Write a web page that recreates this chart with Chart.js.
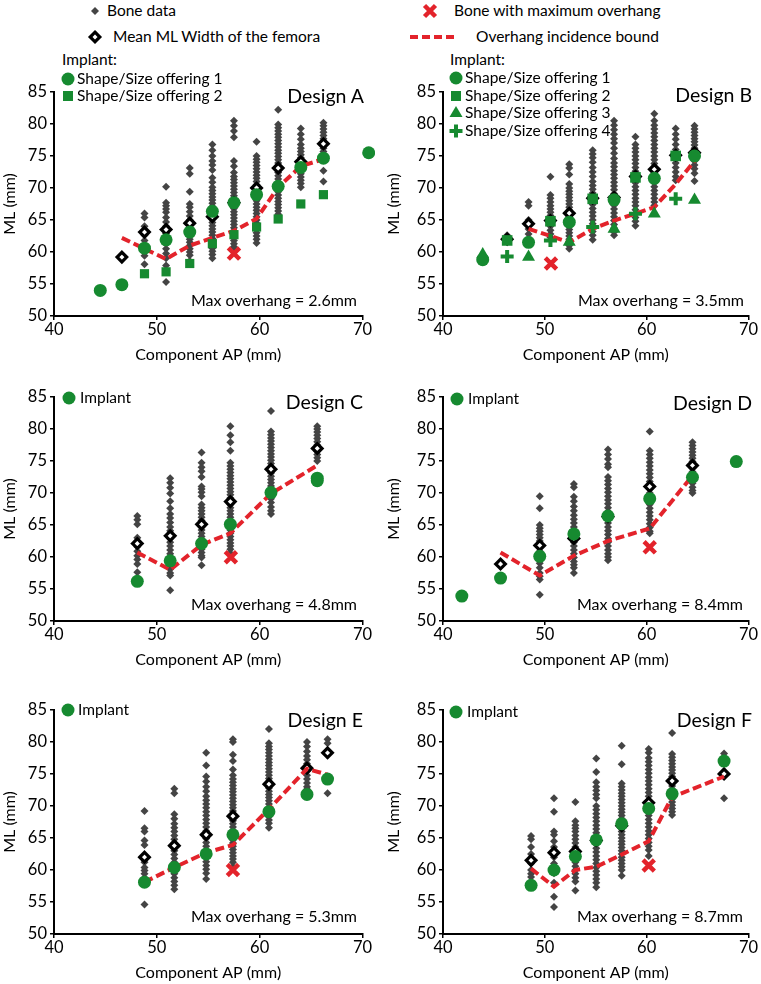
<!DOCTYPE html>
<html>
<head>
<meta charset="utf-8">
<script src="https://cdn.jsdelivr.net/npm/chart.js@4.4.1/dist/chart.umd.min.js"></script>
<style>
  body { margin: 0; background: #fff; width: 761px; height: 984px; position: relative; overflow: hidden; font-family: Lato, sans-serif; color: #000; }
  canvas { position: absolute; }
  .t { position: absolute; white-space: nowrap; font-size: 15.5px; line-height: 1; transform: translateY(-50%); z-index: 5; }
  .r { transform: translate(-100%, -50%); }
  .big { font-size: 19.5px; }
  .mo { font-size: 16px; }
  svg { position: absolute; overflow: visible; z-index: 5; }
</style>
</head>
<body>
<script>
const GREEN = '#168a30', RED = '#e3232b', GREY = '#444444';

// ---- Design A ----
const apA_bone = [46.6, 48.8, 50.9, 53.2, 55.4, 57.5, 59.7, 61.8, 64.0, 66.2];
const mlA_bone = [
  [59.2],
  [66.0, 65.4, 64.0, 63.4, 62.6, 61.8, 61.0, 60.2, 59.4, 58.1],
  [70.2, 67.7, 67.2, 66.7, 66.2, 65.4, 64.7, 64.0, 63.4, 62.9, 62.4, 61.9, 61.3, 60.5, 59.75, 59.0, 57.9, 55.3],
  [73.1, 72.2, 69.4, 67.5, 67.0, 66.3, 65.6, 65.0, 64.4, 63.8, 63.2, 62.6, 62.0, 61.5, 61.0, 60.5, 60.0, 59.5, 58.6],
  [76.8, 75.9, 75.0, 74.2, 73.6, 72.8, 71.6, 70.9, 70.1, 69.6, 69.1, 68.6, 68.1, 67.6, 67.1, 66.6, 66.1, 65.6, 65.1, 64.6, 64.1, 63.6, 63.1, 62.6, 62.1, 61.6, 61.1, 60.6, 60.1, 59.6, 59.0],
  [80.5, 79.7, 78.9, 77.9, 74.2, 73.4, 72.4, 71.8, 71.3, 70.8, 70.3, 69.8, 69.3, 68.8, 68.3, 67.8, 67.3, 66.8, 66.3, 65.8, 65.3, 64.8, 64.3, 63.8, 63.3, 62.8, 62.3, 61.8, 61.3, 60.8, 60.3],
  [77.2, 75.0, 74.5, 74.0, 73.5, 73.0, 72.5, 72.0, 71.5, 71.0, 70.5, 70.0, 69.5, 69.0, 68.5, 68.0, 67.5, 67.0, 66.5, 66.0, 65.5, 65.0, 64.5, 64.0, 63.5, 63.0, 62.5, 62.0, 61.4],
  [82.2, 79.9, 79.4, 78.9, 78.4, 77.9, 77.4, 76.9, 76.4, 75.9, 75.4, 74.9, 74.4, 73.9, 73.4, 72.9, 72.4, 71.9, 71.4, 70.9, 70.4, 69.9, 69.4, 68.9, 68.4, 67.9, 67.4, 66.9, 66.4, 65.9],
  [79.3, 78.4, 77.6, 76.8, 76.2, 75.7, 75.2, 74.7, 74.2, 73.7, 73.2, 72.7, 72.2, 71.7, 71.2, 70.7, 70.1],
  [80.2, 79.7, 79.2, 78.7, 78.2, 77.7, 77.2, 76.7, 76.2, 75.7, 72.7, 71.0]
];
const apA_mean = [46.6, 48.8, 50.9, 53.2, 55.4, 57.5, 59.7, 61.8, 64.0, 66.2];
const mlA_mean = [59.2, 63.1, 63.5, 64.5, 65.5, 67.7, 70.0, 73.1, 74.1, 76.9];
const apA_imp1 = [44.5, 46.6, 48.8, 50.9, 53.2, 55.4, 57.5, 59.7, 61.8, 64.0, 66.2, 70.6];
const mlA_imp1 = [54.0, 54.9, 60.6, 61.9, 63.1, 66.35, 67.7, 68.95, 70.25, 73.2, 74.65, 75.5];
const apA_imp2 = [48.8, 50.9, 53.2, 55.4, 57.5, 59.7, 61.8, 64.0, 66.2];
const mlA_imp2 = [56.6, 56.9, 58.2, 61.3, 62.7, 63.9, 65.15, 67.5, 68.95];
const apA_bound = [46.6, 48.8, 50.9, 53.2, 55.4, 57.5, 59.7, 61.8, 64.0, 66.2];
const mlA_bound = [62.2, 60.5, 58.9, 61.0, 62.2, 63.3, 65.2, 70.1, 73.4, 74.5];
const maxA = [57.5, 59.75];

// ---- Design B ----
const apB_bone = [46.3, 48.4, 50.55, 52.4, 54.7, 56.8, 58.9, 60.75, 62.85, 64.7];
const mlB_bone = [
  [62.6, 62.2, 61.8],
  [67.8, 67.2, 65.0, 64.4, 63.6, 62.8, 62.0, 61.4],
  [71.75, 68.9, 68.4, 67.8, 67.2, 66.7, 66.2, 65.7, 65.2, 64.6, 64.0, 63.4, 62.8, 62.3],
  [73.7, 73.1, 72.1, 70.6, 70.0, 69.5, 69.0, 68.5, 68.0, 67.5, 67.0, 66.5, 66.0, 65.5, 65.0, 64.5, 64.0, 63.5, 63.0, 62.5, 62.0, 61.5, 61.0, 60.5],
  [75.9, 75.3, 74.7, 74.0, 73.2, 72.5, 71.8, 71.0, 70.4, 69.8, 69.2, 68.6, 68.0, 67.4, 66.8, 66.2, 65.6, 65.0, 64.4, 63.8, 63.2, 62.6, 61.9],
  [80.5, 79.8, 79.1, 78.4, 77.7, 77.0, 76.2, 75.4, 74.6, 73.9, 73.3, 72.7, 72.1, 71.5, 70.9, 70.3, 69.7, 69.1, 68.5, 67.9, 67.3, 66.7, 66.1, 65.5, 64.9, 64.3, 63.7, 63.1, 62.6],
  [78.0, 76.8, 76.2, 75.6, 75.0, 74.4, 73.8, 73.2, 72.6, 72.0, 71.4, 70.8, 70.2, 69.6, 69.0, 68.4, 67.8, 67.2, 66.6, 66.0, 65.4, 64.8, 64.1],
  [81.6, 80.5, 79.8, 79.2, 78.6, 78.0, 77.4, 76.8, 76.2, 75.6, 75.0, 74.4, 73.8, 73.2, 72.6, 72.0, 71.4, 70.8, 70.2, 69.6, 69.0, 68.4, 67.8, 67.25],
  [79.3, 78.4, 77.6, 76.8, 76.0, 75.3, 74.6, 73.9, 73.2, 72.5, 71.8, 71.2],
  [79.7, 79.2, 78.7, 78.2, 77.7, 77.2, 76.7, 76.2, 75.7, 75.2, 74.7, 74.2, 73.6, 73.0, 72.3, 71.1]
];
const apB_mean = [46.3, 48.4, 50.55, 52.4, 54.7, 56.8, 58.9, 60.75, 62.85, 64.7];
const mlB_mean = [62.0, 64.4, 64.9, 66.05, 68.4, 68.5, 71.8, 72.9, 75.1, 75.5];
const apB_imp1 = [43.9, 48.4, 52.4, 56.8, 60.75, 64.7];
const mlB_imp1 = [58.8, 61.5, 64.65, 68.15, 71.5, 75.0];
const apB_imp2 = [46.3, 50.55, 54.7, 58.9, 62.85];
const mlB_imp2 = [61.8, 64.8, 68.3, 71.65, 75.0];
const apB_imp3 = [43.9, 48.4, 52.4, 56.8, 60.75, 64.7];
const mlB_imp3 = [59.6, 59.2, 61.55, 63.6, 65.95, 68.1];
const apB_imp4 = [46.3, 50.55, 54.7, 58.9, 62.85];
const mlB_imp4 = [59.3, 61.8, 63.9, 65.95, 68.3];
const apB_bound = [48.4, 50.55, 52.4, 54.7, 56.8, 58.9, 60.75, 62.85, 64.7];
const mlB_bound = [63.6, 62.5, 61.5, 63.6, 64.9, 66.0, 67.0, 70.6, 74.2];
const maxB = [50.6, 58.2];

// ---- Design C ----
const apC_bone = [48.1, 51.3, 54.35, 57.15, 61.1, 65.6];
const mlC_bone = [
  [66.4, 65.8, 65.1, 63.0, 62.5, 61.6, 60.9, 60.2, 59.6, 58.9, 57.6],
  [72.3, 71.6, 70.8, 69.9, 68.7, 67.6, 66.7, 66.1, 65.4, 64.7, 64.1, 63.5, 62.9, 62.3, 61.7, 61.1, 60.5, 59.9, 59.3, 58.7, 58.1, 57.5, 57.1, 54.8],
  [76.3, 74.7, 74.0, 73.4, 72.5, 71.0, 70.6, 70.1, 69.5, 68.2, 67.7, 67.2, 66.7, 66.2, 65.7, 65.2, 64.7, 64.2, 63.7, 63.2, 62.7, 62.2, 61.7, 61.2, 60.7, 60.2, 59.9, 58.7],
  [80.4, 79.0, 77.9, 76.6, 74.7, 74.2, 73.7, 73.2, 72.7, 72.2, 71.7, 71.2, 70.7, 70.2, 69.7, 69.2, 68.7, 68.2, 67.7, 67.2, 66.7, 66.2, 65.7, 65.2, 64.7, 64.2, 63.7, 63.2, 62.7, 62.2, 61.7, 61.2, 60.6],
  [82.8, 79.6, 79.1, 78.6, 78.1, 77.6, 77.1, 76.6, 76.1, 75.6, 75.1, 74.6, 74.1, 73.6, 73.1, 72.6, 72.1, 71.6, 71.1, 70.6, 70.1, 69.6, 69.1, 68.5, 67.8, 67.2, 66.7],
  [80.4, 80.0, 79.5, 79.0, 78.5, 78.0, 77.5, 77.0, 76.5, 76.0, 75.5, 75.0, 71.6]
];
const apC_mean = [48.1, 51.3, 54.35, 57.15, 61.1, 65.6];
const mlC_mean = [62.1, 63.3, 65.1, 68.65, 73.7, 76.95];
const apC_imp = [48.1, 51.3, 54.35, 57.15, 61.1, 65.6, 65.6];
const mlC_imp = [56.2, 59.4, 62.1, 65.1, 70.05, 71.9, 72.3];
const apC_bound = [48.1, 51.3, 54.35, 57.15, 61.1, 65.6];
const mlC_bound = [60.7, 58.0, 61.9, 63.7, 69.9, 74.3];
const maxC = [57.2, 59.95];

// ---- Design D ----
const apD_bone = [45.65, 49.5, 52.85, 56.2, 60.3, 64.5];
const mlD_bone = [
  [58.9],
  [69.5, 67.6, 65.0, 64.5, 64.0, 63.5, 63.0, 62.5, 62.0, 61.5, 60.9, 59.9, 59.0, 58.3, 57.5, 57.0, 56.5, 54.1],
  [71.4, 70.9, 69.4, 68.7, 67.9, 67.2, 66.5, 65.9, 65.3, 64.7, 64.1, 63.5, 62.9, 62.3, 61.7, 61.1, 60.5, 59.9, 59.3, 58.8, 58.3, 57.5],
  [76.8, 76.0, 75.3, 74.5, 74.0, 72.5, 71.9, 71.3, 70.7, 70.1, 69.5, 68.9, 68.3, 67.7, 67.1, 66.5, 65.9, 65.3, 64.7, 64.1, 63.5, 62.9, 62.3, 61.7, 61.1, 60.5, 60.0, 59.5],
  [79.6, 76.6, 76.0, 75.4, 74.8, 74.2, 73.6, 73.0, 72.4, 71.8, 71.2, 70.6, 70.0, 69.4, 68.8, 68.2, 67.6, 67.0, 66.4, 65.8, 65.2, 64.6, 64.0, 63.7],
  [77.9, 77.4, 76.9, 76.4, 75.9, 75.4, 74.9, 74.4, 73.9, 73.3, 72.7, 72.1, 71.5, 70.9, 70.4, 70.0]
];
const apD_mean = [45.65, 49.5, 52.85, 56.2, 60.3, 64.5];
const mlD_mean = [58.9, 61.8, 62.9, 66.3, 71.0, 74.3];
const apD_imp = [41.85, 45.65, 49.5, 52.85, 56.2, 60.3, 64.5, 68.8];
const mlD_imp = [53.9, 56.7, 60.1, 63.6, 66.4, 69.1, 72.45, 74.9];
const apD_bound = [45.65, 49.5, 52.85, 56.2, 60.3, 64.5];
const mlD_bound = [60.7, 57.1, 60.2, 62.5, 64.45, 72.7];
const maxD = [60.3, 61.5];

// ---- Design E ----
const apE_bone = [48.8, 51.7, 54.8, 57.4, 60.9, 64.6, 66.6];
const mlE_bone = [
  [69.2, 66.5, 66.0, 64.6, 63.9, 61.2, 60.4, 59.9, 59.4, 58.8, 54.6],
  [72.7, 72.0, 68.7, 68.0, 67.2, 66.6, 66.0, 65.4, 64.8, 64.2, 63.6, 63.0, 62.4, 61.8, 61.2, 60.6, 60.0, 59.4, 58.8, 58.2, 57.6, 57.0],
  [78.3, 76.3, 74.6, 73.8, 73.0, 72.3, 71.5, 70.9, 70.3, 69.7, 69.1, 68.5, 67.9, 67.3, 66.7, 66.1, 65.5, 64.9, 64.3, 63.7, 63.1, 62.5, 61.9, 61.3, 60.7, 60.1, 59.5, 58.6],
  [80.4, 80.0, 78.0, 77.0, 75.7, 74.8, 74.2, 73.7, 73.2, 72.7, 72.2, 71.7, 71.2, 70.7, 70.2, 69.7, 69.2, 68.7, 68.2, 67.7, 67.2, 66.7, 66.2, 65.7, 65.2, 64.7, 64.2, 63.7, 63.2, 62.7, 62.2, 61.7, 61.2, 60.5],
  [82.0, 79.8, 79.3, 78.8, 78.3, 77.8, 77.3, 76.8, 76.3, 75.8, 75.3, 74.8, 74.3, 73.8, 73.3, 72.8, 72.3, 71.8, 71.3, 70.8, 70.3, 69.8, 69.3, 68.8, 68.3, 67.8, 67.3, 66.6],
  [80.0, 79.3, 78.5, 77.8, 77.2, 76.6, 76.0, 75.4, 74.8, 74.2, 73.6, 73.0, 72.6],
  [80.4, 79.8, 78.4, 72.0]
];
const apE_mean = [48.8, 51.7, 54.8, 57.4, 60.9, 64.6, 66.6];
const mlE_mean = [62.0, 63.8, 65.5, 68.4, 73.4, 75.9, 78.3];
const apE_imp = [48.8, 51.7, 54.8, 57.4, 60.9, 64.6, 66.6];
const mlE_imp = [58.1, 60.4, 62.5, 65.5, 69.1, 71.8, 74.2];
const apE_bound = [48.8, 51.7, 54.8, 57.4, 60.9, 64.6, 66.6];
const mlE_bound = [58.1, 60.4, 62.7, 63.9, 69.5, 75.8, 74.9];
const maxE = [57.4, 60.0];

// ---- Design F ----
const apF_bone = [48.65, 50.9, 53.0, 55.05, 57.55, 60.2, 62.5, 67.6];
const mlF_bone = [
  [65.3, 64.8, 63.6, 62.5, 61.0, 60.0, 59.4, 58.9],
  [71.2, 69.1, 66.0, 65.5, 64.5, 63.6, 62.0, 61.0, 60.3, 59.5, 58.0, 55.8, 54.2],
  [70.6, 67.6, 67.0, 66.5, 66.0, 65.4, 64.8, 64.2, 63.6, 63.0, 62.4, 61.8, 61.2, 60.6, 60.0, 59.4, 58.8, 58.2, 56.8],
  [77.4, 75.3, 73.7, 73.0, 72.4, 71.8, 71.2, 70.0, 69.4, 68.8, 68.2, 67.6, 67.0, 66.4, 65.8, 65.2, 64.6, 64.0, 63.4, 62.8, 62.2, 61.6, 61.0, 60.4, 59.8, 59.2, 58.6, 58.0, 57.3],
  [79.4, 76.5, 73.5, 73.0, 72.5, 72.0, 71.5, 71.0, 70.5, 70.0, 69.5, 69.0, 68.5, 68.0, 67.5, 67.0, 66.5, 66.0, 65.5, 65.0, 64.5, 64.0, 63.5, 63.0, 62.5, 62.0, 61.5, 61.0, 60.5, 60.0, 59.1],
  [78.9, 78.3, 77.5, 76.9, 76.3, 75.7, 75.1, 74.5, 73.9, 73.3, 72.7, 72.1, 71.5, 70.9, 70.3, 69.7, 69.1, 68.5, 67.9, 67.3, 66.7, 66.1, 65.5, 64.9, 64.3, 63.7, 63.1, 62.2],
  [81.4, 78.1, 77.6, 77.1, 76.6, 76.1, 75.6, 75.1, 74.6, 74.1, 73.6, 73.1, 72.6, 72.1, 71.6, 71.1, 70.6, 70.1, 69.6, 69.1, 68.6],
  [78.2, 71.2]
];
const apF_mean = [48.65, 50.9, 53.0, 55.05, 57.55, 60.2, 62.5, 67.6];
const mlF_mean = [61.5, 62.7, 62.9, 64.6, 66.9, 70.5, 73.9, 75.0];
const apF_imp = [48.65, 50.9, 53.0, 55.05, 57.55, 60.2, 62.5, 67.6];
const mlF_imp = [57.6, 60.0, 62.1, 64.7, 67.2, 69.6, 71.9, 77.0];
const apF_bound = [48.65, 50.9, 53.0, 55.05, 57.55, 60.2, 62.5, 67.6];
const mlF_bound = [60.2, 57.4, 60.0, 60.5, 62.4, 64.5, 71.4, 74.6];
const maxF = [60.2, 60.7];

const xTicks = [40, 50, 60, 70];
const yTicks = [50, 55, 60, 65, 70, 75, 80, 85];

function pts(xs, ys) { return xs.map((x, i) => ({ x: x, y: ys[i] })); }
function columns(xs, cols) {
  const out = [];
  xs.forEach((x, i) => cols[i].forEach(y => out.push({ x: x, y: y })));
  return out;
}

function implantSet(xs, ys, style, r) {
  const ds = { data: pts(xs, ys), pointStyle: style, pointRadius: r, pointHoverRadius: r,
    backgroundColor: GREEN, borderColor: GREEN, borderWidth: 0, order: 2, clip: false };
  if (style === 'cross') { ds.borderWidth = 4; }
  return ds;
}

function panel(left, top, width, yw, padR, boneX, boneY, meanX, meanY, implants, boundX, boundY, mx) {
  const cv = document.createElement('canvas');
  const h = 12 + 225 + 48;
  cv.width = width; cv.height = h;
  cv.style.left = left + 'px'; cv.style.top = (top - 12) + 'px';
  document.body.appendChild(cv);
  const font = { family: 'Lato', size: 16.5 };
  const datasets = [
    { data: [{ x: mx[0], y: mx[1] }], pointStyle: 'crossRot', pointRadius: 8, borderColor: RED, borderWidth: 4.5, order: 0, clip: false },
    { data: pts(boundX, boundY), showLine: true, pointRadius: 0, borderColor: RED, borderWidth: 4, borderDash: [9, 4], order: 3, clip: false },
    { data: pts(meanX, meanY), pointStyle: 'rectRot', pointRadius: 4.8, borderColor: '#000', backgroundColor: '#fff', borderWidth: 3.2, order: 4, clip: false },
    { data: columns(boneX, boneY), pointStyle: 'rectRot', pointRadius: 4, backgroundColor: GREY, borderWidth: 0, order: 5, clip: false }
  ].concat(implants);
  new Chart(cv, {
    type: 'scatter',
    data: { datasets: datasets },
    options: {
      responsive: false, animation: false, devicePixelRatio: 1,
      layout: { padding: { top: 12, right: padR, left: 0, bottom: 0 } },
      plugins: { legend: { display: false }, tooltip: { enabled: false } },
      scales: {
        x: {
          type: 'linear', min: 40, max: 70,
          afterBuildTicks: s => { s.ticks = xTicks.map(v => ({ value: v })); },
          afterFit: s => { s.height = 48; },
          ticks: { color: '#000', font: font, padding: 0, maxRotation: 0 },
          grid: { drawOnChartArea: false, drawTicks: true, tickLength: 4, color: '#000', lineWidth: 1.5 },
          border: { color: '#000', width: 2 },
          title: { display: true, text: 'Component AP (mm)', color: '#000', font: { family: 'Lato', size: 16 }, padding: 0 }
        },
        y: {
          type: 'linear', min: 50, max: 85,
          afterBuildTicks: s => { s.ticks = yTicks.map(v => ({ value: v })); },
          afterFit: s => { s.width = yw; },
          ticks: { color: '#000', font: font, padding: 3 },
          grid: { drawOnChartArea: false, drawTicks: true, tickLength: 4, color: '#000', lineWidth: 1.5 },
          border: { color: '#000', width: 2 },
          title: { display: true, text: 'ML (mm)', color: '#000', font: { family: 'Lato', size: 16 }, padding: 0 }
        }
      }
    }
  });
}

panel(0, 91, 375, 54, 12, apA_bone, mlA_bone, apA_mean, mlA_mean,
  [implantSet(apA_imp1, mlA_imp1, 'circle', 6.5), implantSet(apA_imp2, mlA_imp2, 'rect', 6.5)],
  apA_bound, mlA_bound, maxA);
panel(384, 91, 377, 59, 9, apB_bone, mlB_bone, apB_mean, mlB_mean,
  [implantSet(apB_imp1, mlB_imp1, 'circle', 6.5), implantSet(apB_imp2, mlB_imp2, 'rect', 7.5),
   implantSet(apB_imp3, mlB_imp3, 'triangle', 7.5), implantSet(apB_imp4, mlB_imp4, 'cross', 6.5)],
  apB_bound, mlB_bound, maxB);
panel(0, 396, 375, 54, 12, apC_bone, mlC_bone, apC_mean, mlC_mean,
  [implantSet(apC_imp, mlC_imp, 'circle', 6.5)], apC_bound, mlC_bound, maxC);
panel(384, 396, 377, 59, 9, apD_bone, mlD_bone, apD_mean, mlD_mean,
  [implantSet(apD_imp, mlD_imp, 'circle', 6.5)], apD_bound, mlD_bound, maxD);
panel(0, 709, 375, 54, 12, apE_bone, mlE_bone, apE_mean, mlE_mean,
  [implantSet(apE_imp, mlE_imp, 'circle', 6.5)], apE_bound, mlE_bound, maxE);
panel(384, 709, 377, 59, 9, apF_bone, mlF_bone, apF_mean, mlF_mean,
  [implantSet(apF_imp, mlF_imp, 'circle', 6.5)], apF_bound, mlF_bound, maxF);

// ---- text and legend markers ----
function label(text, x, y, cls) {
  const d = document.createElement('div');
  d.className = 't' + (cls ? ' ' + cls : '');
  d.textContent = text;
  d.style.left = x + 'px'; d.style.top = y + 'px';
  document.body.appendChild(d);
}
function mark(kind, cx, cy) {
  const svg = document.createElementNS('http://www.w3.org/2000/svg', 'svg');
  svg.setAttribute('width', 20); svg.setAttribute('height', 20);
  svg.style.left = (cx - 10) + 'px'; svg.style.top = (cy - 10) + 'px';
  let s = '';
  if (kind === 'circle') s = `<circle cx="10" cy="10" r="6.5" fill="${GREEN}"/>`;
  if (kind === 'square') s = `<rect x="5" y="5" width="10" height="10" fill="${GREEN}"/>`;
  if (kind === 'triangle') s = `<polygon points="10,3 16.5,14 3.5,14" fill="${GREEN}"/>`;
  if (kind === 'plus') s = `<path d="M10 3.5V16.5M3.5 10H16.5" stroke="${GREEN}" stroke-width="4"/>`;
  if (kind === 'bone') s = `<polygon points="10,6 14,10 10,14 6,10" fill="${GREY}"/>`;
  if (kind === 'mean') s = `<polygon points="10,5.2 14.8,10 10,14.8 5.2,10" fill="#fff" stroke="#000" stroke-width="3.2"/>`;
  if (kind === 'x') s = `<path d="M4.5 4.5L15.5 15.5M15.5 4.5L4.5 15.5" stroke="${RED}" stroke-width="4.5"/>`;
  if (kind === 'dash') s = `<path d="M-13 10H33" stroke="${RED}" stroke-width="4" stroke-dasharray="8 4"/>`;
  svg.innerHTML = s;
  document.body.appendChild(svg);
}

mark('bone', 95, 11); label('Bone data', 107, 11);
mark('mean', 95, 37); label('Mean ML Width of the femora', 113, 37);
mark('x', 430, 11); label('Bone with maximum overhang', 454, 11);
mark('dash', 433, 37); label('Overhang incidence bound', 476, 37);

label('Implant:', 62, 60);
mark('circle', 68, 79); label('Shape/Size offering 1', 77, 79);
mark('square', 68, 96); label('Shape/Size offering 2', 77, 96);
label('Implant:', 450, 60);
mark('circle', 456, 78); label('Shape/Size offering 1', 465, 78);
mark('square', 456, 96); label('Shape/Size offering 2', 465, 96);
mark('triangle', 456, 113); label('Shape/Size offering 3', 465, 113);
mark('plus', 456, 131); label('Shape/Size offering 4', 465, 131);

mark('circle', 69, 398); label('Implant', 80, 398);
mark('circle', 457, 399); label('Implant', 468, 399);
mark('circle', 68, 710); label('Implant', 78, 710);
mark('circle', 456, 712); label('Implant', 467, 712);

label('Design A', 364, 96, 'r big'); label('Max overhang = 2.6mm', 357, 300, 'r mo');
label('Design B', 752, 95, 'r big'); label('Max overhang = 3.5mm', 744, 300, 'r mo');
label('Design C', 363, 402, 'r big'); label('Max overhang = 4.8mm', 357, 604, 'r mo');
label('Design D', 752, 403, 'r big'); label('Max overhang = 8.4mm', 743, 604, 'r mo');
label('Design E', 363, 720, 'r big'); label('Max overhang = 5.3mm', 357, 916, 'r mo');
label('Design F', 752, 720, 'r big'); label('Max overhang = 8.7mm', 743, 916, 'r mo');
</script>
</body>
</html>
